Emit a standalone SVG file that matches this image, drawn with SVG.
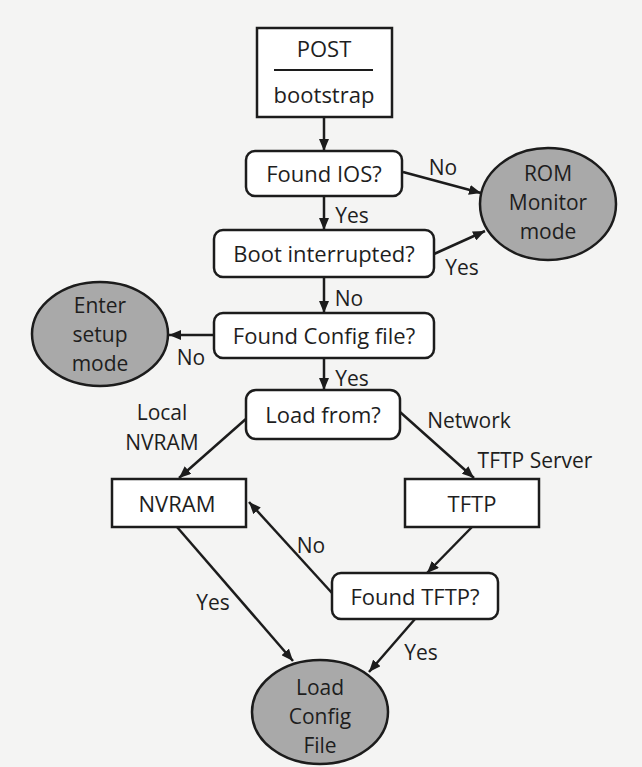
<svg xmlns="http://www.w3.org/2000/svg" width="642" height="767" viewBox="0 0 642 767">
<defs>
<marker id="ah" viewBox="0 0 12 10" refX="12" refY="5" markerWidth="12" markerHeight="10" markerUnits="userSpaceOnUse" orient="auto">
<path d="M0,0 L12,5 L0,10 z" fill="#1c1c1c"/>
</marker>
<style>
text{font-family:"Open Sans","Noto Sans","DejaVu Sans",sans-serif;font-size:22px;fill:#1e1e1e;text-anchor:middle;dominant-baseline:central}
.box{fill:#fff;stroke:#1c1c1c;stroke-width:2.5}
.term{fill:#a9a9a9;stroke:#1c1c1c;stroke-width:2.5}
.term + text, .tt{font-size:21px}
.c line{stroke:#1c1c1c;stroke-width:2.5;marker-end:url(#ah)}
.lbl{font-size:21px}
</style>
</defs>
<rect width="642" height="767" fill="#f4f4f3"/>
<g class="c" id="connectors">
<line x1="324" y1="117" x2="324" y2="151"/>
<line x1="403" y1="172" x2="481" y2="193"/>
<line x1="324" y1="196" x2="324" y2="230"/>
<line x1="434" y1="254" x2="485" y2="231"/>
<line x1="324" y1="277" x2="324" y2="313"/>
<line x1="214" y1="335" x2="169" y2="335"/>
<line x1="324" y1="358" x2="324" y2="390"/>
<line x1="247" y1="418" x2="179" y2="478"/>
<line x1="400" y1="412" x2="474" y2="478"/>
<line x1="472" y1="527" x2="427" y2="573"/>
<line x1="332" y1="593" x2="249" y2="502"/>
<line x1="177" y1="527" x2="293" y2="661"/>
<line x1="415" y1="619" x2="369" y2="672"/>
</g>
<g id="edge-labels">
<text class="lbl" x="443" y="167">No</text>
<text class="lbl" x="352" y="215">Yes</text>
<text class="lbl" x="462" y="267">Yes</text>
<text class="lbl" x="349" y="298">No</text>
<text class="lbl" x="191" y="357">No</text>
<text class="lbl" x="352" y="378">Yes</text>
<text class="lbl" x="162" y="412">Local</text>
<text class="lbl" x="162" y="442">NVRAM</text>
<text class="lbl" x="469" y="420">Network</text>
<text class="lbl" x="535" y="460">TFTP Server</text>
<text class="lbl" x="311" y="545">No</text>
<text class="lbl" x="213" y="602">Yes</text>
<text class="lbl" x="421" y="652">Yes</text>
</g>
<g id="post">
<rect class="box" x="257" y="28" width="135" height="89"/>
<line x1="274" y1="70" x2="373" y2="70" stroke="#1c1c1c" stroke-width="2"/>
<text x="324" y="48">POST</text>
<text x="324" y="94">bootstrap</text>
</g>
<g id="found-ios">
<rect class="box" x="246" y="151" width="156" height="45" rx="9"/>
<text x="324" y="173">Found IOS?</text>
</g>
<g id="boot-interrupted">
<rect class="box" x="214" y="230" width="220" height="47" rx="9"/>
<text x="324" y="253">Boot interrupted?</text>
</g>
<g id="found-config">
<rect class="box" x="214" y="313" width="220" height="45" rx="9"/>
<text x="324" y="335">Found Config file?</text>
</g>
<g id="load-from">
<rect class="box" x="246" y="390" width="154" height="49" rx="10"/>
<text x="323" y="414">Load from?</text>
</g>
<g id="nvram">
<rect class="box" x="112" y="479" width="134" height="48"/>
<text x="177" y="503">NVRAM</text>
</g>
<g id="tftp">
<rect class="box" x="405" y="479" width="134" height="48"/>
<text x="472" y="503">TFTP</text>
</g>
<g id="found-tftp">
<rect class="box" x="332" y="573" width="166" height="46" rx="9"/>
<text x="415" y="596">Found TFTP?</text>
</g>
<g id="rom-monitor">
<ellipse class="term" cx="548" cy="204" rx="68" ry="56"/>
<text class="tt" x="548" y="173">ROM</text>
<text class="tt" x="548" y="202">Monitor</text>
<text class="tt" x="548" y="231">mode</text>
</g>
<g id="enter-setup">
<ellipse class="term" cx="100" cy="334" rx="68" ry="52"/>
<text class="tt" x="100" y="305">Enter</text>
<text class="tt" x="100" y="334">setup</text>
<text class="tt" x="100" y="363">mode</text>
</g>
<g id="load-config">
<ellipse class="term" cx="320" cy="712" rx="68" ry="52"/>
<text class="tt" x="320" y="687">Load</text>
<text class="tt" x="320" y="716">Config</text>
<text class="tt" x="320" y="745">File</text>
</g>
</svg>
